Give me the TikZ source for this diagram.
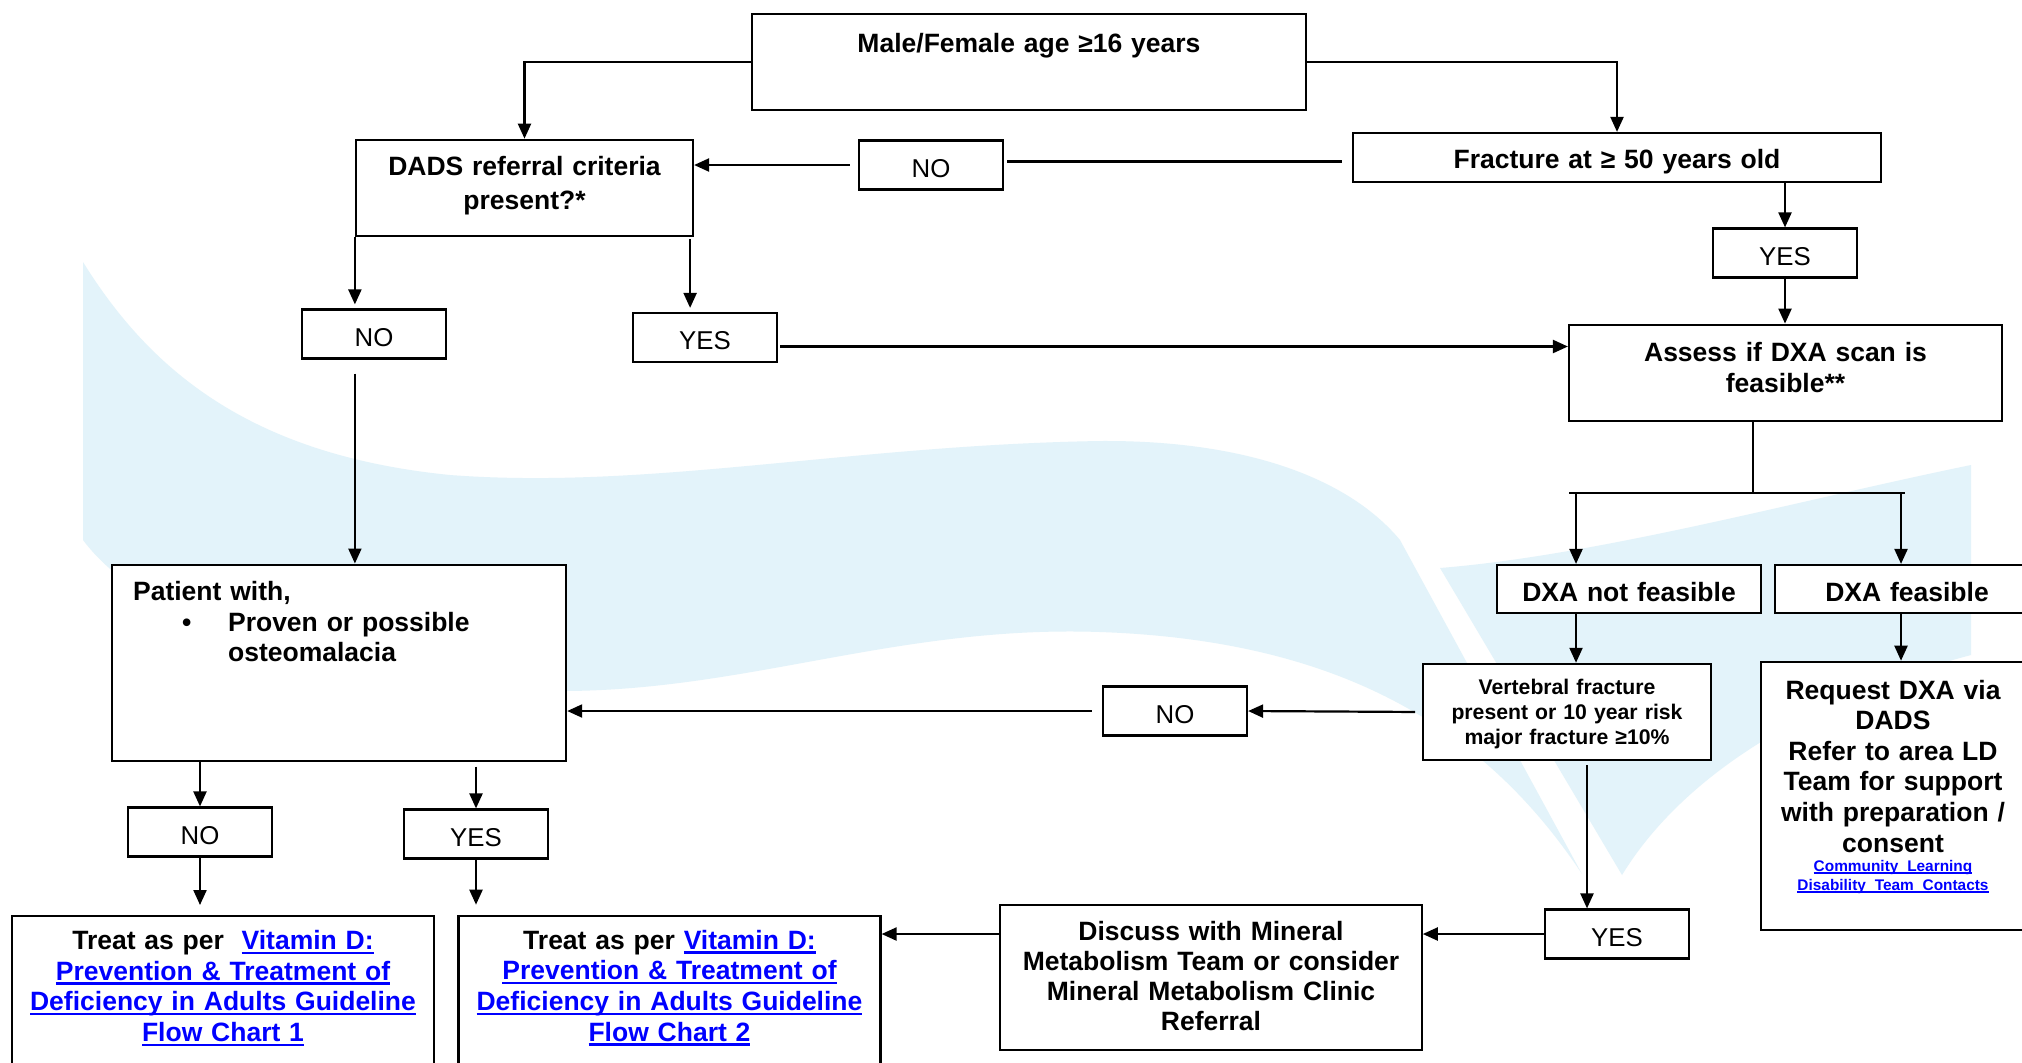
\documentclass[tikz,border=0pt]{standalone}
\usepackage{fontspec}
\setmainfont{Liberation Sans}
\usetikzlibrary{arrows.meta}
\definecolor{linkblue}{RGB}{0,0,255}
\definecolor{wmark}{RGB}{227,243,250}
\newcommand{\weblink}[1]{\leavevmode{\color{linkblue}\sbox0{#1}\rlap{\rule[-0.17em]{\wd0}{0.09em}}\usebox0}}
\newcommand{\flowfont}{\fontsize{13.25}{15.3}\selectfont\bfseries}
\newcommand{\vertfont}{\fontsize{10.6}{12.5}\selectfont\bfseries}
\newcommand{\answerfont}{\fontsize{12.9}{15}\selectfont}
\newcommand{\smalllinkfont}{\fontsize{7.7}{9.5}\selectfont\bfseries}

\tikzset{
  box/.style={draw, fill=white, inner sep=0pt, align=center, font=\flowfont},
  answer/.style={draw, fill=white, inner sep=0pt, minimum width=72pt, minimum height=24.5pt, text height=12.2pt, text depth=0pt, font=\answerfont},
}

\begin{document}
\begin{tikzpicture}[x=0.5pt,y=-0.5pt,line width=1.1pt,>={Triangle[length=7.5pt,width=6.5pt]}]
\useasboundingbox (0,0) rectangle (2022,1062);
\clip (0,0) rectangle (2022,1062);
\fill[white] (0,0) rectangle (2022,1062);

% watermark
\fill[wmark] (83,262) .. controls (150,370) and (250,455) .. (450,475)
  .. controls (650,490) and (850,445) .. (1100,441)
  .. controls (1250,440) and (1350,480) .. (1400,540)
  -- (1582,874)
  .. controls (1480,720) and (1330,640) .. (1100,632)
  .. controls (900,625) and (750,690) .. (565,691)
  .. controls (350,692) and (150,630) .. (83,540) -- cycle;
\fill[wmark] (1440,568) .. controls (1600,555) and (1800,500) .. (1971,465)
  -- (1971,655) .. controls (1800,700) and (1680,780) .. (1622,875) -- cycle;

% boxes
\node[box, anchor=north, text width=260pt, inner xsep=8.5pt, text height=19.25pt, text depth=28.75pt] (start) at (1029,13) {Male/Female age ≥16 years};
\node[box, minimum width=168.5pt, minimum height=48.25pt, text width=160pt, font=\fontsize{13.25}{16.8}\selectfont\bfseries, text height=4pt, text depth=16.5pt] (dads) at (524.5,188) {DADS referral criteria\\present?*};
\node[answer] (noA) at (931,165) {NO};
\node[box, minimum width=264pt, minimum height=24.5pt, text width=250pt, text height=11pt, text depth=0pt] (fracture) at (1617,157.5) {Fracture at ≥ 50 years old};
\node[answer] (yesR) at (1785,253) {YES};
\node[answer] (noL) at (374,334) {NO};
\node[answer] (yesM) at (705,337.5) {YES};
\node[box, minimum width=216.5pt, minimum height=48.3pt, text width=200pt, text height=4pt, text depth=15.5pt] (assess) at (1785.5,373) {Assess if DXA scan is\\feasible**};
\node[box, minimum width=132.25pt, minimum height=24pt, text width=125pt, text height=12.5pt, text depth=0pt] (notfeas) at (1629,589) {DXA not feasible};
\node[box, minimum width=132pt, minimum height=24pt, text width=125pt, text height=12.5pt, text depth=0pt] (feas) at (1907,589) {DXA feasible};
\node[box, minimum width=143.75pt, minimum height=48.15pt, text width=135pt, font=\vertfont, text height=4pt, text depth=21.4pt] (vert) at (1567,712) {Vertebral fracture\\present or 10 year risk\\major fracture ≥10\%};
\node[box, anchor=north, text width=128pt, inner xsep=2pt, text height=18.65pt, text depth=115.5pt] (request) at (1893,660.7) {Request DXA via\\DADS\\Refer to area LD\\Team for support\\with preparation /\\consent\par
  {\smalllinkfont\weblink{Community Learning}\\\weblink{Disability Team Contacts}\par}};
\node[answer] (noV) at (1175,711) {NO};
\node[box, anchor=north west, align=left, text width=206pt, inner xsep=10.5pt, text height=18pt, text depth=80pt] (patient) at (111,563.5) {Patient with,\\\makebox[47.5pt][l]{\hspace*{24.5pt}\textbullet}Proven or possible\\\hspace*{47.5pt}osteomalacia};
\node[answer] (noP) at (200,832) {NO};
\node[answer] (yesP) at (476,834) {YES};
\node[answer] (yesV) at (1617,934) {YES};
\node[box, minimum width=210.7pt, minimum height=72.5pt, text width=200pt, font=\fontsize{13.25}{15.1}\selectfont\bfseries, text height=4pt, text depth=41.4pt] (discuss) at (1211,977.5) {Discuss with Mineral\\Metabolism Team or consider\\Mineral Metabolism Clinic\\Referral};
\node[box, anchor=north, text width=200pt, inner xsep=5.5pt, text height=16.75pt, text depth=70pt] (treat1) at (223,915) {Treat as per\ \ \weblink{Vitamin D:}\\\weblink{Prevention \& Treatment of}\\\weblink{Deficiency in Adults Guideline}\\\weblink{Flow Chart 1}};
\node[box, anchor=north, text width=200pt, inner xsep=5.5pt, text height=16.75pt, text depth=70pt] (treat2) at (669.5,914.7) {Treat as per \weblink{Vitamin D:}\\\weblink{Prevention \& Treatment of}\\\weblink{Deficiency in Adults Guideline}\\\weblink{Flow Chart 2}};

% top part
\draw[->] (start.west) -| (dads.north);
\draw[->] (start.east) -| (fracture.north);
\draw[shorten <=5pt,shorten >=1.5pt] ([yshift=-2pt]fracture.west) -- ([yshift=-2pt]fracture.west -| noA.east);
\draw[->,shorten <=4pt] (noA.west) -- (noA.west -| dads.east);
\draw[->,shorten >=2pt] (dads.south west) -- (dads.south west |- noL.north);
\draw[->,shorten <=1pt,shorten >=2pt] ([xshift=-2pt]dads.south east) -- ([xshift=-2pt]dads.south east |- yesM.north);
\draw[->,shorten <=1pt] ([yshift=-4.5pt]yesM.east) -- ([yshift=-4.5pt]yesM.east -| assess.west);
\draw[->] (yesR.north |- fracture.south) -- (yesR.north);
\draw[->] (yesR.south) -- (yesR.south |- assess.north);

% DXA split
\coordinate (split) at (1753,493);
\coordinate (armL) at (1576,493);
\coordinate (armR) at (1901,493);
\draw (split |- assess.south) -- (split);
\draw ([xshift=-3.5pt]armL) -- ([xshift=2pt]armR);
\draw[->] (armL) -- (armL |- notfeas.north);
\draw[->] (armR) -- (armR |- feas.north);
\draw[->] (armL |- notfeas.south) -- (armL |- vert.north);
\draw[->] (armR |- feas.south) -- (armR |- request.north);

% right to left
\draw[->,shorten <=3.5pt] (vert.west) -- (noV.east);
\draw[->,shorten <=5pt] (noV.west) -- (noV.west -| patient.east);
\draw[->,shorten <=2pt] ([xshift=10pt]vert.south) -- ([xshift=10pt]vert.south |- yesV.north);
\draw[->] (yesV.west) -- (yesV.west -| discuss.east);
\draw[->] (discuss.west |- yesV.west) -- (yesV.west -| treat2.east);

% left column
\draw[->,shorten <=7pt] (dads.south west |- noL.south) -- (dads.south west |- patient.north);
\draw[->] (noP.north |- patient.south) -- (noP.north);
\draw[->,shorten <=2.5pt] (yesP.north |- patient.south) -- (yesP.north);
\draw[->,shorten >=5pt] (noP.south) -- (noP.south |- treat1.north);
\draw[->,shorten >=5pt] (yesP.south) -- (yesP.south |- treat2.north);
\end{tikzpicture}
\end{document}
